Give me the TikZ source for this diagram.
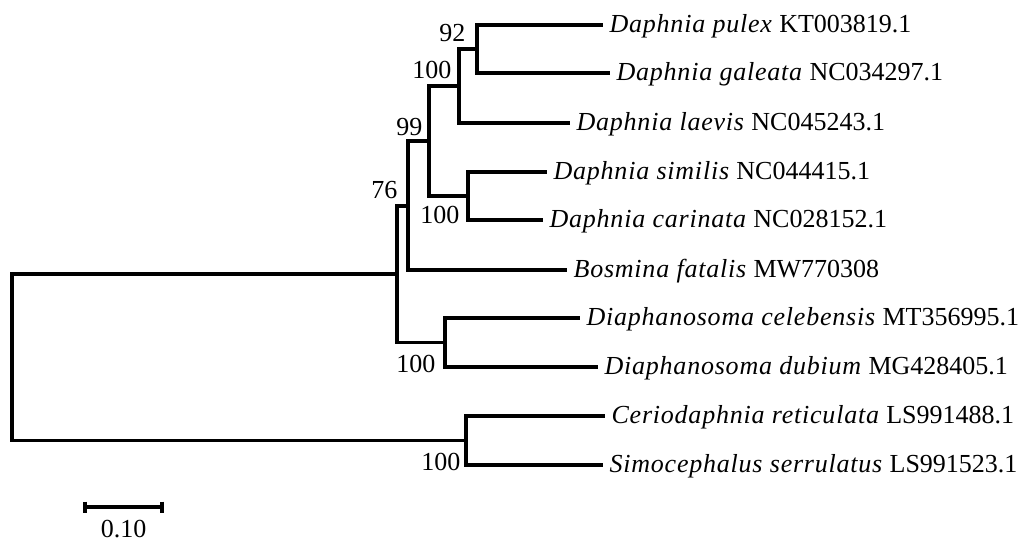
\documentclass[tikz,border=0pt]{standalone}
\usepackage{fontspec}
\setmainfont{Liberation Serif}[ItalicFeatures={LetterSpace=3}]
\begin{document}
\begin{tikzpicture}[x=0.5pt,y=-0.5pt,line width=1.6pt,line join=miter,
  font=\fontsize{13pt}{15.6pt}\selectfont,
  leaf/.style={anchor=base west,inner sep=0pt,xshift=2.5pt,yshift=-3.9pt},
  boot/.style={anchor=base east,inner sep=0pt},
  edge/.style={draw=black}]
\useasboundingbox (0,0) rectangle (1031,540);
% internal nodes
\coordinate (root) at (12,357);
\coordinate (nX) at (397,274);
\coordinate (n76) at (408,206);
\coordinate (n99) at (429,141);
\coordinate (n100a) at (459,86);
\coordinate (n92) at (477,49);
\coordinate (n100b) at (468,196);
\coordinate (nD) at (445,342.5);
\coordinate (nC) at (466,440.5);
% leaf tips
\coordinate (tA) at (603,25);
\coordinate (tB) at (610,73);
\coordinate (tC) at (570,123);
\coordinate (tD) at (547,172);
\coordinate (tE) at (543,220);
\coordinate (tF) at (567,270);
\coordinate (tG) at (580,318);
\coordinate (tH) at (598,367);
\coordinate (tI) at (605,416);
\coordinate (tJ) at (603,465);
% branches
\draw[edge] (root) |- (nX);
\draw[edge] (root) |- (nC);
\draw[edge] (nX) |- (n76);
\draw[edge] (nX) |- (nD);
\draw[edge] (n76) |- (n99);
\draw[edge] (n76) |- (tF);
\draw[edge] (n99) |- (n100a);
\draw[edge] (n99) |- (n100b);
\draw[edge] (n100a) |- (n92);
\draw[edge] (n100a) |- (tC);
\draw[edge] (n92) |- (tA);
\draw[edge] (n92) |- (tB);
\draw[edge] (n100b) |- (tD);
\draw[edge] (n100b) |- (tE);
\draw[edge] (nD) |- (tG);
\draw[edge] (nD) |- (tH);
\draw[edge] (nC) |- (tI);
\draw[edge] (nC) |- (tJ);
% leaf labels
\node[leaf] (lA) at (tA) {\textit{Daphnia pulex} KT003819.1};
\node[leaf] (lB) at (tB) {\textit{Daphnia galeata} NC034297.1};
\node[leaf] (lC) at (tC) {\textit{Daphnia laevis} NC045243.1};
\node[leaf] (lD) at (tD) {\textit{Daphnia similis} NC044415.1};
\node[leaf] (lE) at (tE) {\textit{Daphnia carinata} NC028152.1};
\node[leaf] (lF) at (tF) {\textit{Bosmina fatalis} MW770308};
\node[leaf] (lG) at (tG) {\textit{Diaphanosoma celebensis} MT356995.1};
\node[leaf] (lH) at (tH) {\textit{Diaphanosoma dubium} MG428405.1};
\node[leaf] (lI) at (tI) {\textit{Ceriodaphnia reticulata} LS991488.1};
\node[leaf] (lJ) at (tJ) {\textit{Simocephalus serrulatus} LS991523.1};
% bootstrap values
\node[boot] (b92) at (467,42) {92};
\node[boot] (b100a) at (453,78) {100};
\node[boot] (b99) at (424,135) {99};
\node[boot] (b76) at (399,198) {76};
\node[boot] (b100b) at (461,223) {100};
\node[boot] (b100d) at (437,372) {100};
\node[boot] (b100c) at (462,470) {100};
% scale bar
\coordinate (s1) at (85,507);
\coordinate (s2) at (162,507);
\coordinate (s1t) at (85,501.5);
\coordinate (s1b) at (85,512.5);
\coordinate (s2t) at (162,501.5);
\coordinate (s2b) at (162,512.5);
\draw[edge] (s1) -- (s2);
\draw[edge] (s1t) -- (s1b);
\draw[edge] (s2t) -- (s2b);
\node[anchor=base,inner sep=0pt] (slab) at (123.5,537) {0.10};
\end{tikzpicture}
\end{document}
